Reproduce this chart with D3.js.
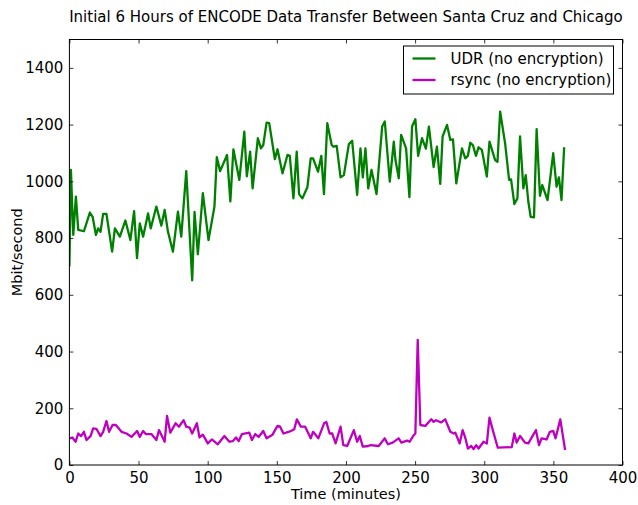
<!DOCTYPE html>
<html>
<head>
<meta charset="utf-8">
<script src="https://cdn.jsdelivr.net/npm/d3@7"></script>
<style>
  body { margin: 0; background: #fff; }
  text { font-family: "DejaVu Sans", sans-serif; fill: #000; }
</style>
</head>
<body>
<div id="chart"></div>
<script>
// UDR (no encryption) samples: minutes / Mbit per second
var udrTime = [0, 1.1, 2.8, 4.7, 6.4, 10.5, 14.8, 16.8, 19.2, 20.8, 22.5, 24.4, 26.8, 30.9, 32.9, 36.5, 40.5, 44.1, 46.8, 48.9,
  50.9, 53.3, 56.9, 58.8, 62.9, 66.5, 68.9, 71.3, 74.9, 78.5, 80.9, 84.5, 88.8, 90.5, 92.9, 96.5, 100.6, 104.9, 106.6, 109,
  114, 116.4, 118.6, 122.9, 126.5, 128.3, 130.7, 132.5, 136.3, 138.5, 140.2, 142.6, 144.5, 148.6, 150.5, 154.1, 157.7, 159.4, 162, 164.4,
  166.1, 168.5, 172.1, 174.5, 176.2, 179.8, 182.2, 184.1, 186.5, 189.7, 190.9, 193.3, 196.1, 198.5, 202.1, 204.5, 208.1, 210.5, 212.2, 214.1,
  216.1, 218.5, 222.1, 226.2, 228.1, 231.7, 234.6, 235.8, 238.2, 239.9, 243.5, 245.9, 247.8, 250.2, 252.2, 255, 257.8, 260, 263.4, 265.8,
  268.2, 269.9, 273.1, 275.5, 277.4, 279.8, 283.9, 286.3, 288.2, 289.9, 291.8, 294, 295.9, 298.3, 301.9, 303.8, 307.9, 309.6, 311.5, 315.1,
  318, 319.4, 321.8, 324, 325.9, 328.3, 330, 331.9, 333.6, 336, 337.9, 340.3, 342, 345.8, 349.9, 352.3, 354, 355.9, 357.8];
var udrRate = [700, 1040, 811, 946, 829, 824, 890, 875, 811, 834, 822, 885, 885, 752, 834, 805, 862, 793, 895, 729,
  852, 805, 887, 834, 911, 844, 899, 822, 752, 893, 805, 1036, 651, 892, 743, 958, 793, 911, 1085, 1036,
  1093, 929, 1113, 1005, 1175, 1018, 1105, 975, 1152, 1116, 1128, 1207, 1205, 1078, 1113, 1028, 1093, 1090, 940, 1105,
  955, 940, 979, 1081, 1081, 1034, 1090, 955, 1205, 1128, 1122, 1125, 1014, 1022, 1131, 1143, 952, 1116, 1014, 1116,
  975, 1040, 955, 1193, 1211, 999, 1140, 1075, 1011, 1164, 1116, 944, 1193, 1219, 1090, 1152, 1115, 1193, 1050, 1122,
  991, 1158, 1199, 1146, 1148, 993, 1116, 1081, 1090, 1136, 1128, 1090, 1120, 1111, 1017, 1140, 1075, 1069, 1246, 1134,
  1005, 1007, 920, 940, 1158, 975, 1022, 928, 875, 873, 1184, 949, 987, 934, 1099, 981, 1014, 934, 1120];

// rsync (no encryption) samples
var rsyncTime = [0.4, 2.1, 4.5, 6.4, 8.4, 10.5, 12.4, 15.3, 17.2, 19.6, 22.5, 24.4, 26.8, 28.7, 31.2, 33.6, 37.7, 41.3, 44.9, 49,
  50.9, 53.3, 55.2, 59.3, 62.9, 64.8, 68.9, 70.6, 73, 76.8, 79.2, 82.6, 84.5, 86.9, 88.8, 92.2, 94.1, 96.5, 100.1, 103,
  107.3, 112.1, 115.7, 118.1, 120.5, 122.4, 124.8, 130.1, 132, 134.4, 136.8, 140.2, 142.6, 146.9, 150.5, 152.4, 154.8, 158.5, 160.2, 162.6,
  164.5, 167.4, 170.5, 174.5, 176.2, 180, 184.2, 185.8, 188.2, 190.1, 192.5, 196.1, 198.1, 200.9, 205.7, 208.1, 210, 212.2, 216, 217.7,
  223.7, 228, 230.4, 233.8, 238.1, 240.1, 244.2, 246.1, 249, 250.2, 251.9, 253.8, 257.4, 261.7, 263.4, 265.1, 268.9, 271.8, 275.5, 277.9,
  279.1, 282.2, 284.4, 286.3, 288.2, 290.6, 292.3, 294.2, 295.9, 299.5, 301.9, 303.8, 306.2, 309.8, 319.9, 321.8, 323.5, 325.9, 329.5, 331.9,
  337.4, 339.6, 341.5, 345.1, 347.5, 349.9, 351.6, 355, 358.5];
var rsyncRate = [94, 97, 82, 111, 102, 117, 88, 102, 129, 127, 102, 117, 155, 117, 141, 141, 117, 111, 99, 120,
  99, 120, 109, 109, 88, 123, 82, 173, 114, 147, 135, 158, 135, 132, 111, 147, 97, 107, 76, 90,
  73, 102, 82, 84, 97, 84, 109, 114, 88, 109, 99, 120, 94, 107, 138, 135, 111, 117, 120, 126,
  161, 135, 135, 94, 117, 94, 147, 152, 111, 111, 76, 135, 70, 67, 123, 82, 102, 65, 67, 70,
  67, 94, 73, 79, 94, 79, 86, 82, 105, 111, 441, 141, 138, 161, 152, 158, 150, 161, 117, 111,
  114, 76, 123, 96, 58, 67, 56, 70, 58, 82, 76, 167, 123, 61, 63, 111, 79, 102, 79, 76,
  123, 70, 94, 90, 117, 120, 94, 161, 53];

var seriesNames = ["UDR (no encryption)", "rsync (no encryption)"];
var seriesColors = ["#008000", "#bf00bf"];
var xTicks = [0, 50, 100, 150, 200, 250, 300, 350, 400];
var yTicks = [0, 200, 400, 600, 800, 1000, 1200, 1400];

var W = 638, H = 505;
var margin = {top: 39.5, right: 638 - 622.5, bottom: 505 - 465, left: 69.4};
var width = W - margin.left - margin.right;
var height = H - margin.top - margin.bottom;

var svg = d3.select("#chart").append("svg")
  .attr("width", W)
  .attr("height", H);

var g = svg.append("g")
  .attr("transform", "translate(" + margin.left + "," + margin.top + ")");

var x = d3.scaleLinear().domain([0, 400]).range([0, width]);
var y = d3.scaleLinear().domain([0, 1500]).range([height, 0]);

// lines
var line = d3.line()
  .x(function(d) { return x(d[0]); })
  .y(function(d) { return y(d[1]); });

var udr = d3.zip(udrTime, udrRate);
var rsync = d3.zip(rsyncTime, rsyncRate);

g.append("defs").append("clipPath").attr("id", "clip")
  .append("rect").attr("width", width).attr("height", height);

[udr, rsync].forEach(function(data, i) {
  g.append("path")
    .datum(data)
    .attr("clip-path", "url(#clip)")
    .attr("d", line)
    .attr("fill", "none")
    .attr("stroke", seriesColors[i])
    .attr("stroke-width", 2.3)
    .attr("stroke-linejoin", "round");
});

// axes, ticks pointing inward on all four sides
function styleAxis(sel) {
  sel.select(".domain").remove();
  sel.selectAll("line").attr("stroke", "#000").attr("stroke-width", 0.8);
  sel.selectAll("text").attr("font-size", 15).attr("font-family", "DejaVu Sans");
}

g.append("g")
  .attr("transform", "translate(0," + height + ")")
  .call(d3.axisBottom(x).tickValues(xTicks).tickSize(-4).tickPadding(7).tickFormat(d3.format("d")))
  .call(styleAxis);
g.append("g")
  .call(d3.axisTop(x).tickValues(xTicks).tickSize(-4).tickFormat(""))
  .call(styleAxis);
g.append("g")
  .call(d3.axisLeft(y).tickValues(yTicks).tickSize(-4).tickPadding(6).tickFormat(d3.format("d")))
  .call(styleAxis);
g.append("g")
  .attr("transform", "translate(" + width + ",0)")
  .call(d3.axisRight(y).tickValues(yTicks).tickSize(-4).tickFormat(""))
  .call(styleAxis);

g.append("rect")
  .attr("width", width)
  .attr("height", height)
  .attr("fill", "none")
  .attr("stroke", "#000")
  .attr("stroke-width", 1);

// title and axis labels
svg.append("text")
  .attr("x", margin.left + width / 2)
  .attr("y", 22)
  .attr("text-anchor", "middle")
  .attr("font-size", 15)
  .text("Initial 6 Hours of ENCODE Data Transfer Between Santa Cruz and Chicago");

svg.append("text")
  .attr("x", margin.left + width / 2)
  .attr("y", 499)
  .attr("text-anchor", "middle")
  .attr("font-size", 14.5)
  .text("Time (minutes)");

svg.append("text")
  .attr("transform", "translate(22," + (margin.top + height / 2) + ") rotate(-90)")
  .attr("text-anchor", "middle")
  .attr("font-size", 14.5)
  .text("Mbit/second");

// legend
var legend = svg.append("g").attr("transform", "translate(403.5,46)");
legend.append("rect")
  .attr("width", 210)
  .attr("height", 48)
  .attr("fill", "#fff")
  .attr("stroke", "#000")
  .attr("stroke-width", 1);
seriesNames.forEach(function(name, i) {
  var ly = 12.5 + i * 21.5;
  legend.append("line")
    .attr("x1", 9).attr("x2", 32)
    .attr("y1", ly).attr("y2", ly)
    .attr("stroke", seriesColors[i])
    .attr("stroke-width", 2.3);
  legend.append("text")
    .attr("x", 47)
    .attr("y", ly + 5)
    .attr("font-size", 15)
    .text(name);
});
</script>
</body>
</html>
